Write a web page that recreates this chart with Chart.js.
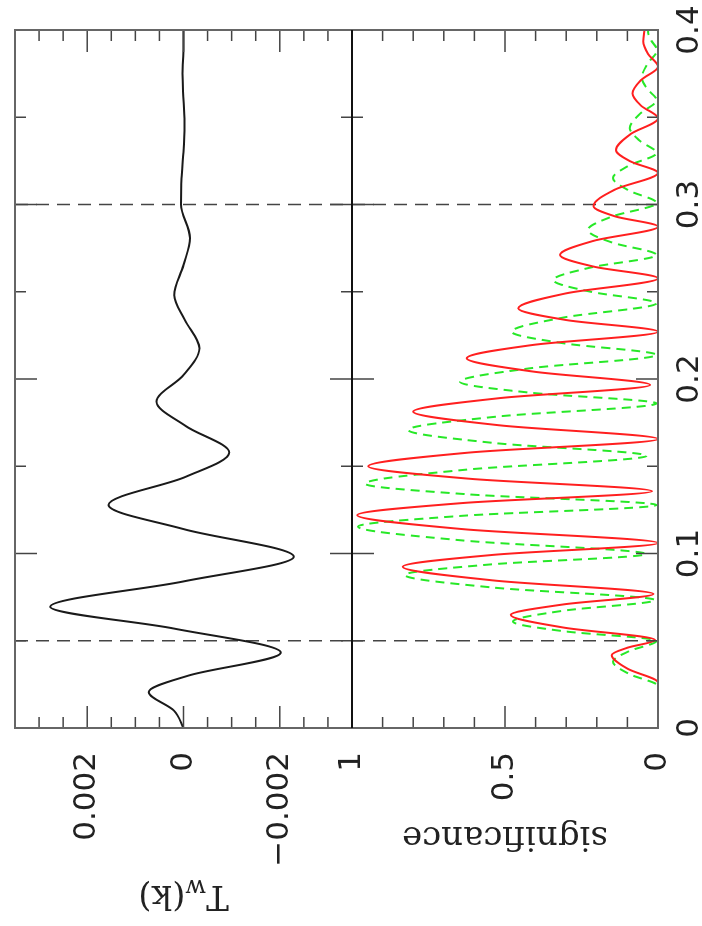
<!DOCTYPE html>
<html>
<head>
<meta charset="utf-8">
<script src="https://cdn.jsdelivr.net/npm/chart.js@4.4.1/dist/chart.umd.min.js"></script>
<style>
  html, body { margin: 0; padding: 0; background: #fff; overflow: hidden; }
  #fig {
    position: absolute; left: 0; top: 0; width: 926px; height: 702px;
    transform-origin: 0 0; transform: translateY(926px) rotate(-90deg);
  }
  #fig canvas { position: absolute; left: 0; }
</style>
</head>
<body>
<div id="fig">
  <canvas id="twChart" width="926" height="370" style="top:0"></canvas>
  <canvas id="sigChart" width="926" height="368" style="top:334px"></canvas>
</div>
<script>
/**
 * Wavenumber k
 */
const kBlack = [0, 0.01, 0.0206, 0.030, 0.0432, 0.057, 0.0695, 0.084, 0.0982, 0.114, 0.1278, 0.144, 0.1578, 0.173, 0.187, 0.2023, 0.2176, 0.2338, 0.248, 0.2653, 0.2808, 0.30, 0.315, 0.33, 0.345, 0.36, 0.375, 0.39, 0.4];

/**
 * T_w(k)
 */
const twValues = [0, 0.0002, 0.00072, -0.0001, -0.00202, 0.0002, 0.00277, 0, -0.00229, 0, 0.00156, -0.00005, -0.00095, -0.00005, 0.00056, 0, -0.00033, -0.00003, 0.00019, 0, -0.000135, 0.00005, 0.00004, 0, -0.00002, 0, 0.00002, 0, 0];

/**
 * Significance, red solid
 */
const kRed = [0, 0.026, 0.034, 0.0418, 0.046, 0.0504, 0.0576, 0.0648, 0.0708, 0.0768, 0.0846, 0.0924, 0.0992, 0.106, 0.114, 0.122, 0.1289, 0.1357, 0.1429, 0.150, 0.1578, 0.1656, 0.1735, 0.1813, 0.189, 0.1966, 0.2043, 0.2119, 0.2195, 0.2271, 0.2338, 0.2405, 0.2491, 0.2577, 0.2644, 0.2711, 0.2792, 0.2873, 0.2932, 0.2991, 0.3086, 0.3181, 0.3247, 0.3312, 0.3403, 0.3494, 0.3566, 0.3637, 0.3714, 0.379, 0.3862, 0.3935, 0.4];
const sigRed = [0, 0, 0.10, 0.151, 0.10, 0.01, 0.31, 0.481, 0.31, 0.015, 0.54, 0.834, 0.54, 0, 0.64, 0.983, 0.64, 0.02, 0.62, 0.947, 0.62, 0, 0.52, 0.80, 0.52, 0.026, 0.41, 0.625, 0.41, 0, 0.30, 0.457, 0.30, 0, 0.21, 0.32, 0.21, 0, 0.14, 0.211, 0.14, 0, 0.09, 0.137, 0.09, 0, 0.055, 0.083, 0.055, 0, 0.032, 0.048, 0.044];

/**
 * Significance, green dashed
 */
const kGreen = [0, 0.024, 0.031, 0.038, 0.044, 0.05, 0.0555, 0.061, 0.0672, 0.0733, 0.0805, 0.0877, 0.0937, 0.0997, 0.1075, 0.1154, 0.1216, 0.1278, 0.1339, 0.140, 0.148, 0.156, 0.1634, 0.1708, 0.1784, 0.186, 0.1922, 0.1984, 0.2061, 0.2138, 0.2205, 0.2271, 0.2352, 0.2434, 0.25, 0.2567, 0.2639, 0.2711, 0.2782, 0.2854, 0.2931, 0.3009, 0.308, 0.3152, 0.3223, 0.3295, 0.3366, 0.3438, 0.3518, 0.3599, 0.3662, 0.3725, 0.3805, 0.3885, 0.394, 0.399, 0.4];
const sigGreen = [0, 0, 0.095, 0.147, 0.095, 0.005, 0.31, 0.474, 0.31, 0.01, 0.54, 0.827, 0.55, 0.04, 0.64, 0.98, 0.64, 0.005, 0.62, 0.957, 0.63, 0.037, 0.54, 0.816, 0.53, 0.005, 0.42, 0.647, 0.42, 0.005, 0.31, 0.478, 0.31, 0.005, 0.22, 0.342, 0.22, 0.005, 0.15, 0.229, 0.15, 0.005, 0.095, 0.147, 0.095, 0.005, 0.06, 0.092, 0.06, 0.005, 0.035, 0.053, 0.035, 0.003, 0.022, 0.033, 0.03];

/**
 * Ticks
 */
const kTicks = [0, 0.1, 0.2, 0.3, 0.4];
const kLabels = ['0', '0.1', '0.2', '0.3', '0.4'];
const kMinor = [0.05, 0.15, 0.25, 0.35];
const twTicks = [-0.002, 0, 0.002];
const twLabels = ['\u22120.002', '0', '0.002'];
const twMinor = [-0.003, -0.0025, -0.0015, -0.001, -0.0005, 0.0005, 0.001, 0.0015, 0.0025, 0.003];
const sigTicks = [0, 0.5, 1];
const sigLabels = ['0', '0.5', '1'];
const sigMinor = [0.1, 0.2, 0.3, 0.4, 0.6, 0.7, 0.8, 0.9];
const dashK = [0.05, 0.3];

const pts = (xs, ys) => xs.map((x, i) => ({ x: x, y: ys[i] }));
const tickFont = { family: 'DejaVu Sans', size: 31 };

/**
 * Fixed axis sizes, no label overhang padding
 */
const fixWidth = s => { s.width = 198; s.paddingTop = 0; s.paddingBottom = 0; };
const fixHeight = s => { s.height = 44; s.paddingLeft = 0; s.paddingRight = 0; };

/**
 * Frame, inward ticks and the dashed k marks
 */
const panelFrame = {
    id: 'panelFrame',
    beforeDatasetsDraw(chart) {
        const { ctx, chartArea: a, scales: { x } } = chart;
        ctx.save();
        ctx.strokeStyle = '#444';
        ctx.lineWidth = 1.5;
        ctx.setLineDash([13, 8]);
        dashK.forEach(k => {
            const px = x.getPixelForValue(k);
            ctx.beginPath();
            ctx.moveTo(px, a.top);
            ctx.lineTo(px, a.bottom);
            ctx.stroke();
        });
        ctx.restore();
    },
    afterDraw(chart, args, opts) {
        const { ctx, chartArea: a, scales: { x, y } } = chart;
        const seg = (x1, y1, x2, y2) => { ctx.beginPath(); ctx.moveTo(x1, y1); ctx.lineTo(x2, y2); ctx.stroke(); };
        ctx.save();
        ctx.strokeStyle = '#444';
        ctx.lineWidth = 1.5;
        kTicks.concat(kMinor).forEach(k => {
            const len = kTicks.includes(k) ? 22 : 11;
            const px = x.getPixelForValue(k);
            seg(px, a.top, px, a.top + len);
            seg(px, a.bottom, px, a.bottom - len);
        });
        opts.major.concat(opts.minor).forEach(v => {
            const len = opts.major.includes(v) ? 22 : 11;
            const py = y.getPixelForValue(v);
            seg(a.left, py, a.left + len, py);
            seg(a.right, py, a.right - len, py);
        });
        ctx.strokeStyle = '#666';
        ctx.lineWidth = 2;
        ctx.strokeRect(a.left, a.top, a.right - a.left, a.bottom - a.top);
        ctx.strokeStyle = '#111';
        ctx.lineWidth = 2;
        const edge = opts.divider === 'bottom' ? a.bottom : a.top;
        seg(a.left, edge, a.right, edge);
        ctx.restore();
    }
};

/**
 * T_w(k) axis title with its subscript
 */
const twTitle = {
    id: 'twTitle',
    afterDraw(chart) {
        const { ctx, chartArea: a } = chart;
        const big = '34px "DejaVu Serif"';
        const small = '24px "DejaVu Serif"';
        ctx.save();
        ctx.translate(31, (a.top + a.bottom) / 2);
        ctx.rotate(-Math.PI / 2);
        ctx.fillStyle = '#222';
        ctx.textBaseline = 'middle';
        ctx.font = big;
        const wT = ctx.measureText('T').width;
        const wK = ctx.measureText('(k)').width;
        ctx.font = small;
        const wW = ctx.measureText('w').width;
        let x0 = -(wT + wW + wK) / 2;
        ctx.font = big;
        ctx.fillText('T', x0, 0);
        ctx.font = small;
        ctx.fillText('w', x0 + wT, 9);
        ctx.font = big;
        ctx.fillText('(k)', x0 + wT + wW, 0);
        ctx.restore();
    }
};

/**
 * Top panel: T_w(k)
 */
new Chart(document.getElementById('twChart'), {
    type: 'line',
    data: {
        datasets: [{
            data: pts(kBlack, twValues),
            borderColor: '#1a1a1a',
            borderWidth: 2,
            pointRadius: 0,
            cubicInterpolationMode: 'monotone'
        }]
    },
    options: {
        responsive: false,
        animation: false,
        layout: { padding: { top: 15, right: 30, bottom: 18, left: 0 } },
        plugins: {
            legend: { display: false },
            tooltip: { enabled: false },
            panelFrame: { major: twTicks, minor: twMinor, divider: 'bottom' }
        },
        scales: {
            x: { type: 'linear', min: 0, max: 0.4, display: false },
            y: {
                min: -0.0035,
                max: 0.0035,
                afterFit: fixWidth,
                afterBuildTicks: s => { s.ticks = twTicks.map(v => ({ value: v })); },
                grid: { display: false, drawTicks: false },
                border: { display: false },
                ticks: { padding: 24, color: '#222', font: tickFont, callback: (v, i) => twLabels[i] }
            }
        }
    },
    plugins: [panelFrame, twTitle]
});

/**
 * Bottom panel: significance
 */
new Chart(document.getElementById('sigChart'), {
    type: 'line',
    data: {
        datasets: [
            {
                data: pts(kRed, sigRed),
                borderColor: '#ff1f1f',
                borderWidth: 2,
                pointRadius: 0,
                cubicInterpolationMode: 'monotone'
            },
            {
                data: pts(kGreen, sigGreen),
                borderColor: '#27e827',
                borderWidth: 2,
                borderDash: [9, 6],
                pointRadius: 0,
                cubicInterpolationMode: 'monotone'
            }
        ]
    },
    options: {
        responsive: false,
        animation: false,
        layout: { padding: { top: 18, right: 30, bottom: 0, left: 0 } },
        plugins: {
            legend: { display: false },
            tooltip: { enabled: false },
            panelFrame: { major: sigTicks, minor: sigMinor, divider: 'top' }
        },
        scales: {
            x: {
                type: 'linear',
                min: 0,
                max: 0.4,
                afterFit: fixHeight,
                afterBuildTicks: s => { s.ticks = kTicks.map(v => ({ value: v })); },
                grid: { display: false, drawTicks: false },
                border: { display: false },
                ticks: { padding: 13, maxRotation: 0, minRotation: 0, autoSkip: false, color: '#222', font: tickFont, callback: (v, i) => kLabels[i] }
            },
            y: {
                min: 0,
                max: 1,
                afterFit: fixWidth,
                afterBuildTicks: s => { s.ticks = sigTicks.map(v => ({ value: v })); },
                grid: { display: false, drawTicks: false },
                border: { display: false },
                ticks: { padding: 24, color: '#222', font: tickFont, callback: (v, i) => sigLabels[i] },
                title: {
                    display: true,
                    text: 'significance',
                    color: '#222',
                    font: { family: 'DejaVu Serif', size: 34 },
                    padding: { top: 69.6, bottom: 0 }
                }
            }
        }
    },
    plugins: [panelFrame]
});
</script>
</body>
</html>
